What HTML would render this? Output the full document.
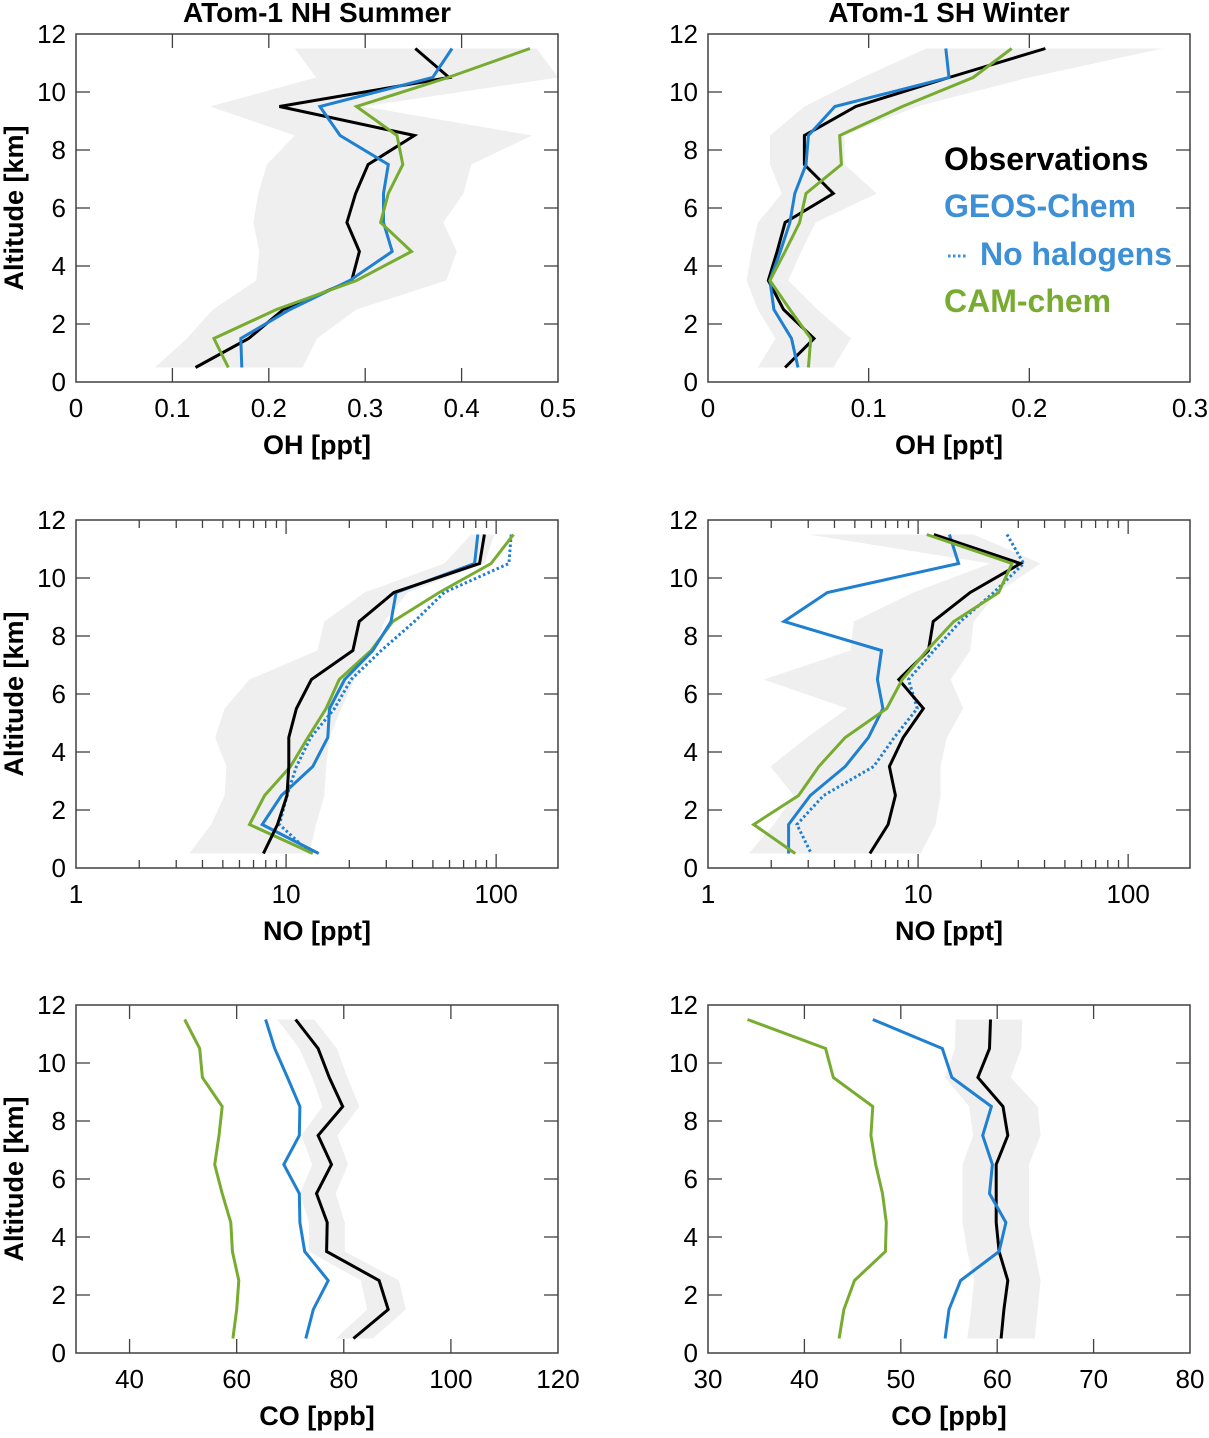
<!DOCTYPE html>
<html><head><meta charset="utf-8"><style>
html,body{margin:0;padding:0;background:#fff}
svg text{font-family:"Liberation Sans",Arial,sans-serif}
</style></head><body>
<svg id="fig" width="1209" height="1433" viewBox="0 0 1209 1433" xmlns="http://www.w3.org/2000/svg">
<g id="legend" font-weight="bold" font-size="32">
<text x="944" y="170" fill="#000">Observations</text>
<text x="944" y="217" fill="#3d8fd6">GEOS-Chem</text>
<line x1="948" y1="256" x2="966" y2="256" stroke="#3d8fd6" stroke-width="3" stroke-dasharray="2.5,2.5"/>
<text x="980" y="265" fill="#3d8fd6">No halogens</text>
<text x="944" y="312" fill="#77ac30">CAM-chem</text>
</g>
</svg>
<script>
// Altitude levels (km)
const altitudes = [11.5,10.5,9.5,8.5,7.5,6.5,5.5,4.5,3.5,2.5,1.5,0.5];

// Panel 1: OH NH summer
const ohNhObs   = [0.352,0.387,0.211,0.351,0.303,0.290,0.281,0.294,0.286,0.215,0.179,0.124];
const ohNhGeos  = [0.390,0.370,0.253,0.274,0.324,0.319,0.319,0.328,0.284,0.222,0.171,0.172];
const ohNhCam   = [0.471,0.386,0.291,0.333,0.339,0.324,0.316,0.348,0.291,0.208,0.143,0.158];
const ohNhMin   = [0.227,0.249,0.139,0.227,0.198,0.189,0.184,0.190,0.187,0.142,0.115,0.082];
const ohNhMax   = [0.478,0.500,0.298,0.473,0.410,0.402,0.381,0.395,0.384,0.291,0.250,0.235];
// Panel 2: OH SH winter
const ohShObs   = [0.210,0.150,0.092,0.060,0.060,0.078,0.048,0.043,0.0375,0.047,0.066,0.048];
const ohShGeos  = [0.148,0.150,0.079,0.0625,0.061,0.054,0.051,0.045,0.0385,0.041,0.052,0.056];
const ohShCam   = [0.189,0.165,0.121,0.082,0.083,0.061,0.057,0.048,0.0385,0.051,0.064,0.0625];
const ohShMin   = [0.136,0.096,0.060,0.0385,0.0385,0.046,0.031,0.027,0.024,0.031,0.042,0.031];
const ohShMax   = [0.283,0.200,0.130,0.085,0.085,0.105,0.067,0.058,0.050,0.068,0.089,0.078];
// Panel 3: NO NH summer
const noNhObs   = [87.9,83.4,32.6,22.3,20.8,13.2,11.2,10.3,10.3,10.1,9.1,7.8];
const noNhGeos  = [81.8,79.0,33.4,31.6,25.9,19.0,16.1,15.8,13.4,9.5,7.7,14.3];
const noNhNoHal = [118,115,56.6,40.8,28.4,20.4,17.0,13.1,11.2,10.1,9.3,13.1];
const noNhCam   = [121,94.6,53.6,32.2,25.4,17.9,15.5,12.7,10.5,7.9,6.7,13.4];
const noNhMin   = [76,56.6,23.6,15.2,14.1,6.7,5.1,4.6,5.2,5.1,4.4,3.46];
const noNhMax   = [98,88,37.9,29.4,26,21.2,18.3,16.1,15.5,15.2,13.9,12.9];
// Panel 4: NO SH winter
const noShObs   = [11.9,30.7,17.7,11.8,11.2,8.1,10.6,8.5,7.3,7.8,7.2,5.9];
const noShGeos  = [14.1,15.6,3.7,2.3,6.7,6.4,6.8,5.8,4.5,3.07,2.42,2.42];
const noShNoHal = [26.5,31.8,22.9,15.9,11.9,9.0,9.9,7.7,6.15,3.55,2.65,3.1];
const noShCam   = [11.0,28.0,24.2,14.8,11.0,8.4,7.1,4.5,3.37,2.7,1.65,2.6];
const noShMin   = [3.0,22.1,9.5,4.94,4.77,1.84,4.6,2.96,1.98,2.56,2.06,1.56];
const noShMax   = [18.4,38.3,23.8,18.4,17.7,14.3,16.4,13.7,12.8,12.8,12.1,10.3];
// Panel 5: CO NH summer
const coNhObs   = [71.0,75.2,77.3,79.8,75.2,77.7,74.9,76.9,76.8,86.6,88.3,81.8];
const coNhGeos  = [65.4,67.1,69.5,71.8,71.7,68.8,71.7,71.8,72.7,77.1,74.3,72.9];
const coNhCam   = [50.3,53.1,53.6,57.3,56.7,55.9,57.3,58.9,59.2,60.4,60.0,59.3];
const coNhMin   = [67.6,71.7,74.1,76.0,72.1,74.1,71.8,73.5,73.5,83.2,84.4,78.5];
const coNhMax   = [74.5,78.7,80.7,82.9,78.8,80.8,78.5,80.2,80.2,90.3,91.6,85.4];
// Panel 6: CO SH winter
const coShObs   = [59.3,59.2,58.0,60.6,61.1,59.9,59.9,59.9,60.2,61.1,60.7,60.4];
const coShGeos  = [47.1,54.3,55.3,59.4,58.5,59.5,59.2,60.9,60.2,56.2,55.0,54.6];
const coShCam   = [34.1,42.2,43.0,47.1,46.9,47.4,48.1,48.5,48.4,45.2,44.1,43.6];
const coShMin   = [55.7,55.6,54.6,57.1,57.5,56.4,56.4,56.4,56.9,57.6,57.3,56.9];
const coShMax   = [62.6,62.5,61.4,64.2,64.5,63.3,63.3,63.3,63.9,64.5,64.2,63.9];

// Tick values / labels
const altTicks = [0,2,4,6,8,10,12];
const ohNhTicks = [0,0.1,0.2,0.3,0.4,0.5];
const ohNhTickLabels = ["0","0.1","0.2","0.3","0.4","0.5"];
const ohShTicks = [0,0.1,0.2,0.3];
const ohShTickLabels = ["0","0.1","0.2","0.3"];
const noTicks = [1,10,100];
const noTickLabels = ["1","10","100"];
const coNhTicks = [40,60,80,100,120];
const coNhTickLabels = ["40","60","80","100","120"];
const coShTicks = [30,40,50,60,70,80];
const coShTickLabels = ["30","40","50","60","70","80"];

const NS = "http://www.w3.org/2000/svg";
const svg = document.getElementById('fig');
const legend = document.getElementById('legend');
const BLACK="#000", BLUE="#1f7fd0", GREEN="#77ac30";

function mk(tag, parent, attrs){
  const e = document.createElementNS(NS, tag);
  for (const k in attrs) e.setAttribute(k, attrs[k]);
  parent.appendChild(e);
  return e;
}

function panel(cfg){
  const L=cfg.x0, R=cfg.x0+482, T=cfg.y0, B=cfg.y0+348;
  const g = mk('g', svg, {});
  
  
  let sx;
  if (cfg.log){
    const l0=Math.log10(cfg.xmin), l1=Math.log10(cfg.xmax);
    sx = v => L + (Math.log10(v)-l0)/(l1-l0)*(R-L);
  } else {
    sx = v => L + (v-cfg.xmin)/(cfg.xmax-cfg.xmin)*(R-L);
  }
  const sy = a => B - a/12*(B-T);
  const clipId = cfg.name+'-clip';
  const cp = mk('clipPath', g, {id:clipId});
  mk('rect', cp, {x:L, y:T, width:R-L, height:B-T});
  const pts = [];
  for (let i=0;i<altitudes.length;i++) pts.push(sx(cfg.bmin[i]).toFixed(1)+','+sy(altitudes[i]).toFixed(1));
  for (let i=altitudes.length-1;i>=0;i--) pts.push(sx(cfg.bmax[i]).toFixed(1)+','+sy(altitudes[i]).toFixed(1));
  const band = mk('polygon', g, {points:pts.join(' '), fill:'#efefef', 'clip-path':'url(#'+clipId+')'});
  
  
  for (const s of cfg.series){
    const p = altitudes.map((a,i)=>sx(s.v[i]).toFixed(1)+','+sy(a).toFixed(1)).join(' ');
    const attrs = {points:p, fill:'none', stroke:s.c, 'stroke-width':3, 'stroke-linejoin':'miter', 'clip-path':'url(#'+clipId+')'};
    if (s.dot) attrs['stroke-dasharray']='2.5,2.5';
    const pl = mk('polyline', g, attrs);
    
    
  }
  const box = mk('rect', g, {x:L, y:T, width:R-L, height:B-T, fill:'none', stroke:'#404040', 'stroke-width':1.5});
  
  
  const tk = mk('g', g, {stroke:'#404040', 'stroke-width':1.3});
  
  
  const yl = mk('g', g, {'font-size':26, 'text-anchor':'end', fill:'#000'});
  
  
  for (const a of altTicks){
    const y = sy(a);
    if (a>0 && a<12){
      mk('line', tk, {x1:L, y1:y, x2:L+14, y2:y});
      mk('line', tk, {x1:R, y1:y, x2:R-14, y2:y});
    }
    const t = mk('text', yl, {x:L-10, y:y+9});
    t.textContent = String(a);
  }
  const xl = mk('g', g, {'font-size':26, 'text-anchor':'middle', fill:'#000'});
  
  
  cfg.ticks.forEach((v,i)=>{
    const x = sx(v);
    if (x>L+1 && x<R-1){
      mk('line', tk, {x1:x, y1:B, x2:x, y2:B-14});
      mk('line', tk, {x1:x, y1:T, x2:x, y2:T+14});
    }
    const t = mk('text', xl, {x:x, y:B+35});
    t.textContent = cfg.tickLabels[i];
  });
  if (cfg.log){
    for (let d=1; d<=100; d*=10){
      for (let m=2;m<=9;m++){
        const v=d*m; if (v>=cfg.xmax) continue;
        const x=sx(v);
        mk('line', tk, {x1:x, y1:B, x2:x, y2:B-8});
        mk('line', tk, {x1:x, y1:T, x2:x, y2:T+8});
      }
    }
  }
  const xt = mk('text', g, {x:(L+R)/2, y:B+72, 'font-size':27, 'font-weight':'bold', 'text-anchor':'middle'});
  
  
  xt.textContent = cfg.xlabel;
  if (cfg.ylabel){
    const yt = mk('text', g, {x:0, y:0, 'font-size':27, 'font-weight':'bold', 'text-anchor':'middle', transform:'translate(23,'+((T+B)/2)+') rotate(-90)'});
    
    
    yt.textContent = 'Altitude [km]';
  }
  if (cfg.title){
    const tt = mk('text', g, {x:(L+R)/2, y:T-12, 'font-size':28, 'font-weight':'bold', 'text-anchor':'middle'});
    
    
    tt.textContent = cfg.title;
  }
}

panel({name:'oh-nh-panel', x0:76, y0:34, xmin:0, xmax:0.5, ticks:ohNhTicks, tickLabels:ohNhTickLabels, xlabel:'OH [ppt]', ylabel:true, title:'ATom-1 NH Summer', bmin:ohNhMin, bmax:ohNhMax,
  series:[{n:'obs-line',v:ohNhObs,c:BLACK},{n:'geos-chem-line',v:ohNhGeos,c:BLUE},{n:'cam-chem-line',v:ohNhCam,c:GREEN}]});
panel({name:'oh-sh-panel', x0:708, y0:34, xmin:0, xmax:0.3, ticks:ohShTicks, tickLabels:ohShTickLabels, xlabel:'OH [ppt]', ylabel:false, title:'ATom-1 SH Winter', bmin:ohShMin, bmax:ohShMax,
  series:[{n:'obs-line',v:ohShObs,c:BLACK},{n:'geos-chem-line',v:ohShGeos,c:BLUE},{n:'cam-chem-line',v:ohShCam,c:GREEN}]});
panel({name:'no-nh-panel', x0:76, y0:520, xmin:1, xmax:197, log:true, ticks:noTicks, tickLabels:noTickLabels, xlabel:'NO [ppt]', ylabel:true, bmin:noNhMin, bmax:noNhMax,
  series:[{n:'no-halogens-line',v:noNhNoHal,c:BLUE,dot:true},{n:'cam-chem-line',v:noNhCam,c:GREEN},{n:'geos-chem-line',v:noNhGeos,c:BLUE},{n:'obs-line',v:noNhObs,c:BLACK}]});
panel({name:'no-sh-panel', x0:708, y0:520, xmin:1, xmax:197, log:true, ticks:noTicks, tickLabels:noTickLabels, xlabel:'NO [ppt]', ylabel:false, bmin:noShMin, bmax:noShMax,
  series:[{n:'no-halogens-line',v:noShNoHal,c:BLUE,dot:true},{n:'geos-chem-line',v:noShGeos,c:BLUE},{n:'obs-line',v:noShObs,c:BLACK},{n:'cam-chem-line',v:noShCam,c:GREEN}]});
panel({name:'co-nh-panel', x0:76, y0:1005, xmin:30, xmax:120, ticks:coNhTicks, tickLabels:coNhTickLabels, xlabel:'CO [ppb]', ylabel:true, bmin:coNhMin, bmax:coNhMax,
  series:[{n:'obs-line',v:coNhObs,c:BLACK},{n:'geos-chem-line',v:coNhGeos,c:BLUE},{n:'cam-chem-line',v:coNhCam,c:GREEN}]});
panel({name:'co-sh-panel', x0:708, y0:1005, xmin:30, xmax:80, ticks:coShTicks, tickLabels:coShTickLabels, xlabel:'CO [ppb]', ylabel:false, bmin:coShMin, bmax:coShMax,
  series:[{n:'obs-line',v:coShObs,c:BLACK},{n:'geos-chem-line',v:coShGeos,c:BLUE},{n:'cam-chem-line',v:coShCam,c:GREEN}]});
svg.appendChild(legend);
</script>
</body></html>
